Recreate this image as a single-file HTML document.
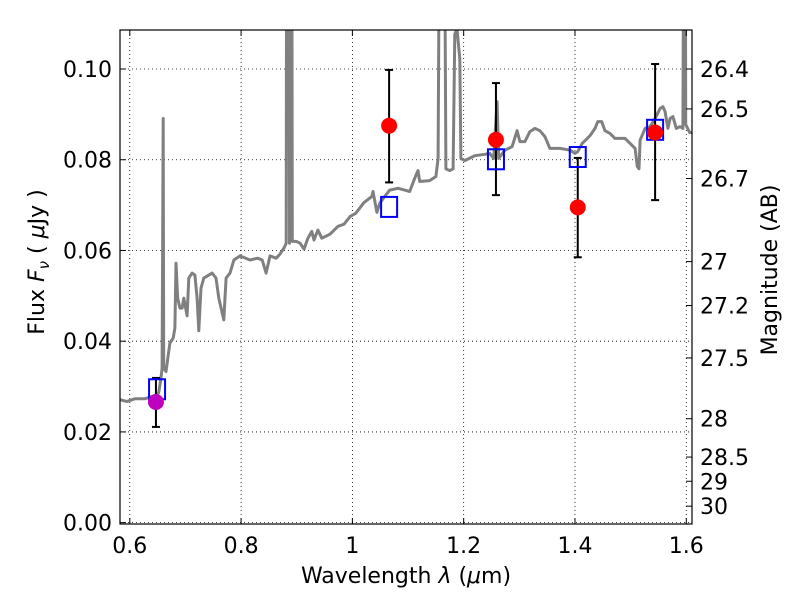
<!DOCTYPE html>
<html><head><meta charset="utf-8"><style>
body{margin:0;background:#fff;}
svg{display:block;font-family:"DejaVu Sans","Liberation Sans",sans-serif;}
</style></head><body>
<svg id="chart" width="800" height="600" viewBox="0 0 800 600" xmlns="http://www.w3.org/2000/svg">
<defs><clipPath id="clip"><rect x="120" y="30" width="572" height="494"/></clipPath></defs>
<rect x="0" y="0" width="800" height="600" fill="#fff"/>
<g id="grid"></g>
<g id="spec" clip-path="url(#clip)"></g>
<g id="pts"></g>
<rect x="120" y="30" width="572" height="494" fill="none" stroke="#000" stroke-width="1.2"/>
<g id="ticks"></g>
<text x="406" y="583" font-size="22" text-anchor="middle">Wavelength  <tspan font-style="italic">λ</tspan> (<tspan font-style="italic">μ</tspan>m)</text>
<text transform="translate(44,262) rotate(-90)" font-size="22" text-anchor="middle">Flux  <tspan font-style="italic">F</tspan><tspan font-style="italic" font-size="15" dy="5">ν</tspan><tspan dy="-5">  ( </tspan><tspan font-style="italic">μ</tspan>Jy )</text>
<text transform="translate(777,270) rotate(-90)" font-size="22" text-anchor="middle">Magnitude (AB)</text>
</svg>
<script>
const xTicks=[0.6,0.8,1.0,1.2,1.4,1.6];
const xTickLabels=["0.6","0.8","1","1.2","1.4","1.6"];
const yTicks=[0,0.02,0.04,0.06,0.08,0.10];
const yTickLabels=["0.00","0.02","0.04","0.06","0.08","0.10"];
const magTicks=[26.4,26.5,26.7,27,27.2,27.5,28,28.5,29,30];
const magTickLabels=["26.4","26.5","26.7","27","27.2","27.5","28","28.5","29","30"];
const specLam=[0.5824,0.595,0.609,0.627,0.645,0.652,0.656,0.658,0.660,0.661,0.665,0.672,0.678,0.681,0.683,0.686,0.690,0.694,0.697,0.703,0.706,0.712,0.717,0.721,0.724,0.728,0.733,0.748,0.755,0.760,0.769,0.773,0.780,0.787,0.798,0.816,0.830,0.838,0.845,0.852,0.863,0.870,0.877,0.881,0.882,0.886,0.887,0.888,0.891,0.892,0.899,0.906,0.913,0.920,0.927,0.931,0.938,0.945,0.960,0.974,0.985,0.996,1.006,1.021,1.035,1.037,1.044,1.049,1.058,1.067,1.082,1.094,1.103,1.112,1.118,1.121,1.139,1.150,1.154,1.157,1.165,1.168,1.175,1.181,1.184,1.188,1.193,1.195,1.202,1.220,1.238,1.247,1.254,1.260,1.263,1.274,1.287,1.296,1.301,1.310,1.319,1.328,1.337,1.346,1.355,1.373,1.391,1.400,1.405,1.413,1.427,1.436,1.441,1.448,1.454,1.463,1.472,1.490,1.499,1.508,1.512,1.515,1.517,1.526,1.535,1.544,1.553,1.558,1.562,1.567,1.571,1.576,1.582,1.589,1.594,1.596,1.598,1.599,1.606,1.612];
const specFlux=[0.0271,0.0267,0.0273,0.0273,0.0280,0.0286,0.0319,0.0341,0.0891,0.0341,0.0333,0.0396,0.0407,0.0429,0.0572,0.0495,0.0473,0.0473,0.0495,0.0456,0.0539,0.0550,0.0546,0.0495,0.0423,0.0517,0.0539,0.0550,0.0539,0.0495,0.0447,0.0539,0.0550,0.0579,0.0588,0.0579,0.0583,0.0579,0.0550,0.0588,0.0583,0.0592,0.0605,0.0616,0.15,0.15,0.0616,0.15,0.15,0.0620,0.0620,0.0616,0.0603,0.0627,0.0642,0.0623,0.0645,0.0627,0.0636,0.0653,0.0658,0.0675,0.0682,0.0706,0.0719,0.0730,0.0684,0.0704,0.0719,0.0733,0.0737,0.0733,0.0730,0.0759,0.0776,0.0752,0.0754,0.0763,0.0803,0.15,0.15,0.0780,0.0776,0.0780,0.1077,0.1088,0.1023,0.0803,0.0798,0.0809,0.0812,0.0814,0.0803,0.0928,0.0803,0.0821,0.0829,0.0864,0.0840,0.0840,0.0862,0.0869,0.0864,0.0851,0.0825,0.0825,0.0821,0.0814,0.0818,0.0836,0.0853,0.0869,0.0884,0.0884,0.0864,0.0858,0.0847,0.0847,0.0836,0.0825,0.0785,0.0780,0.0843,0.0869,0.0873,0.0891,0.0913,0.0917,0.0906,0.0869,0.0891,0.0895,0.0869,0.0873,0.0869,0.15,0.15,0.0878,0.0860,0.0860];
const obsLam=[0.647,1.066,1.258,1.405,1.544];
const obsFlux=[0.0266,0.0875,0.0844,0.0695,0.0860];
const obsErrLo=[0.0211,0.0750,0.0722,0.0585,0.0711];
const obsErrHi=[0.0319,0.0998,0.0969,0.0804,0.1011];
const obsColor=["#bf00bf","#ff0000","#ff0000","#ff0000","#ff0000"];
const modLam=[0.649,1.066,1.258,1.405,1.544];
const modFlux=[0.0294,0.0696,0.0801,0.0806,0.0866];

const X0=120,X1=692,Y0=30,Y1=524;
const xMin=0.5824,xMax=1.6103,yMin=-0.0003,yMax=0.1086;
const sx=v=>X0+(v-xMin)/(xMax-xMin)*(X1-X0);
const sy=v=>Y1-(v-yMin)/(yMax-yMin)*(Y1-Y0);
const magToFlux=m=>Math.pow(10,(23.9-m)/2.5);
const NS="http://www.w3.org/2000/svg";
function mk(tag,attrs,parent,text){const e=document.createElementNS(NS,tag);for(const k in attrs)e.setAttribute(k,attrs[k]);if(text!==undefined)e.textContent=text;parent.appendChild(e);return e;}
const grid=document.getElementById('grid'),ticks=document.getElementById('ticks'),spec=document.getElementById('spec'),pts=document.getElementById('pts');

xTicks.forEach((v,i)=>{
  const x=sx(v);
  const g=mk('line',{x1:x,x2:x,y1:Y0,y2:Y1,stroke:'#000','stroke-width':0.8,'stroke-dasharray':'1,3'},grid);
  
  
  mk('line',{x1:x,x2:x,y1:Y1,y2:Y1-6,stroke:'#000'},ticks);
  mk('line',{x1:x,x2:x,y1:Y0,y2:Y0+6,stroke:'#000'},ticks);
  const t=mk('text',{x:x,y:553,'font-size':22,'text-anchor':'middle'},ticks,xTickLabels[i]);
  
  
});
yTicks.forEach((v,i)=>{
  const y=sy(v);
  const g=mk('line',{x1:X0,x2:X1,y1:y,y2:y,stroke:'#000','stroke-width':0.8,'stroke-dasharray':'1,3'},grid);
  
  
  mk('line',{x1:X0,x2:X0+6,y1:y,y2:y,stroke:'#000'},ticks);
  const t=mk('text',{x:112,y:y+8,'font-size':22,'text-anchor':'end'},ticks,yTickLabels[i]);
  
  
});
magTicks.forEach((m,i)=>{
  const y=sy(magToFlux(m));
  mk('line',{x1:X1,x2:X1-6,y1:y,y2:y,stroke:'#000'},ticks);
  const t=mk('text',{x:700,y:y+8,'font-size':22},ticks,magTickLabels[i]);
  
  
});

let d='';
specLam.forEach((l,i)=>{d+=(i?'L':'M')+sx(l).toFixed(1)+','+sy(specFlux[i]).toFixed(1);});
const sp=mk('path',{d:d,fill:'none',stroke:'#808080','stroke-width':3,'stroke-linejoin':'round'},spec);



obsLam.forEach((l,i)=>{
  const x=sx(l);
  const eb=mk('g',{},pts);
  
  
  mk('line',{x1:x,x2:x,y1:sy(obsErrLo[i]),y2:sy(obsErrLo[i]===undefined?0:obsErrHi[i]),stroke:'#000','stroke-width':2},eb);
  mk('line',{x1:x-4,x2:x+4,y1:sy(obsErrLo[i]),y2:sy(obsErrLo[i]),stroke:'#000','stroke-width':2},eb);
  mk('line',{x1:x-4,x2:x+4,y1:sy(obsErrHi[i]),y2:sy(obsErrHi[i]),stroke:'#000','stroke-width':2},eb);
});
modLam.forEach((l,i)=>{
  const r=mk('rect',{x:sx(l)-8,y:sy(modFlux[i])-10,width:16,height:20,fill:'none',stroke:'#0000ff','stroke-width':2},pts);
  
  
});
obsLam.forEach((l,i)=>{
  const c=mk('circle',{cx:sx(l),cy:sy(obsFlux[i]),r:8,fill:obsColor[i]},pts);
  
  
});
</script>
</body></html>
